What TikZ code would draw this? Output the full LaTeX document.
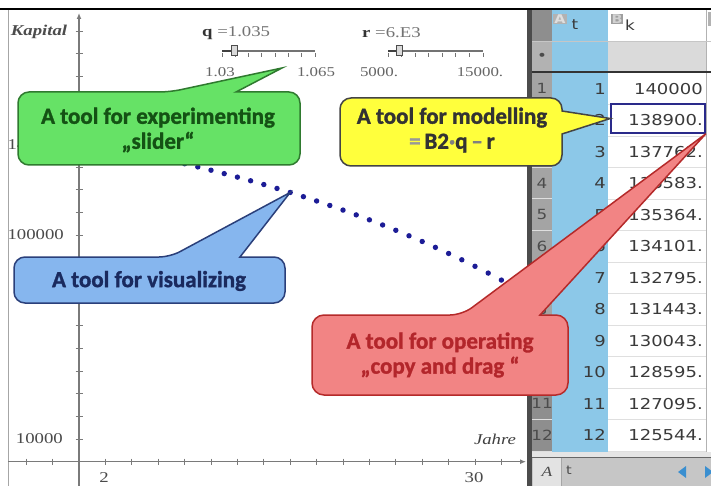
\documentclass[tikz,border=0pt]{standalone}
\usepackage{fontspec}
\setmainfont{Liberation Serif}
\newfontfamily\graphfont[FakeStretch=1.25]{Liberation Serif}
\newfontfamily\cellfont[FakeStretch=1.2]{DejaVu Sans}
\newfontfamily\calloutfont[BoldFeatures={FakeBold=1.3}]{Carlito}
\usetikzlibrary{arrows.meta}

\definecolor{axisgray}{HTML}{7A7A7A}
\definecolor{labgray}{HTML}{4A4A4A}
\definecolor{dotblue}{HTML}{1C1C96}
\definecolor{greenfill}{HTML}{66E266}
\definecolor{greenline}{HTML}{2F7A2F}
\definecolor{greentext}{HTML}{145214}
\definecolor{bluefill}{HTML}{86B6EE}
\definecolor{blueline}{HTML}{2A3F7A}
\definecolor{bluetext}{HTML}{1A2A5E}
\definecolor{yellowfill}{HTML}{FFFF3C}
\definecolor{yellowline}{HTML}{444444}
\definecolor{yellowtext}{HTML}{333333}
\definecolor{redfill}{HTML}{F28484}
\definecolor{redline}{HTML}{B52A2A}
\definecolor{redtext}{HTML}{B3262B}
\definecolor{colA}{HTML}{8CC8E8}
\definecolor{rowhead}{HTML}{A4A4A4}
\definecolor{rowheaddark}{HTML}{8E8E8E}
\definecolor{formrow}{HTML}{DADADA}
\definecolor{cellink}{HTML}{3A3A3A}
\definecolor{selblue}{HTML}{2A2A8A}
\definecolor{barblue}{HTML}{3A8FD0}

\begin{document}
\begin{tikzpicture}[x=1pt,y=-1pt,
  axis/.style={axisgray, line width=1.4pt},
  tick/.style={axisgray, line width=1pt},
  glab/.style={font=\graphfont\fontsize{15}{15}\selectfont, text=labgray, inner sep=0pt},
  slab/.style={font=\graphfont\fontsize{13.5}{14}\selectfont, text=black!60, inner sep=0pt},
  dotstyle/.style={circle, fill=dotblue, inner sep=0pt, minimum size=5.4pt},
  cellnum/.style={font=\cellfont\fontsize{15}{15}\selectfont, text=cellink, inner sep=0pt},
  rowlab/.style={font=\cellfont\fontsize{14}{14}\selectfont, text=black!70, inner sep=0pt},
  callout/.style={line width=1.5pt, rounded corners=11pt},
  callouttext/.style={font=\calloutfont\bfseries\fontsize{23}{25}\selectfont, align=center, inner sep=0pt},
  sliderline/.style={black!55, line width=1.8pt},
  sliderknob/.style={draw=black!70, fill=gray!30, line width=0.7pt}
]
\useasboundingbox (0,0) rectangle (711,486);
\fill[white] (0,0) rectangle (711,486);

% ---------- graph panel ----------
\draw[gray!70, line width=1.5pt] (8.5,10) -- (8.5,486);

% axes
\draw[axis, -{Latex[length=6pt,width=5pt]}] (79,486) -- (79,13);
\draw[axis, -{Latex[length=6pt,width=5pt]}] (8,461.7) -- (526,461.7);
\foreach \k in {1,...,19}
  \draw[tick] (75.5,{461.7-22.667*\k}) -- (82.5,{461.7-22.667*\k});
\foreach \k in {-2,-1,1,2,...,16}
  \draw[tick] ({79+26.4*\k},458.5) -- ({79+26.4*\k},465);

% axis labels
\node[glab, font=\graphfont\bfseries\itshape\fontsize{15}{15}\selectfont, text=black!70] (ylab) at (39,32) {Kapital};
\node[glab, font=\graphfont\itshape\fontsize{15}{15}\selectfont, text=black!75] (xlab) at (495,439) {Jahre};
\node[glab, anchor=east] (y10k) at (63,439) {10000};
\node[glab, anchor=east] (y100k) at (64,235) {100000};
\node[glab, anchor=east] (y140k) at (64,144.4) {140000};
\node[glab] (x2) at (104,478) {2};
\node[glab] (x30) at (474,478) {30};

% sliders
\node[glab, anchor=west, text=black!55] (qval) at (202,33) {\textbf{\color{black!80}q} =1.035};
\draw[sliderline] (222,51) -- (315,51);
\foreach \i in {0,...,7}
  \draw[black!55, line width=0.8pt] ({222+13.29*\i},53) -- ({222+13.29*\i},57.5);
\draw[black!75, line width=1.8pt] (222,51) -- (231,51);
\draw[sliderknob] (231,45.5) rectangle (237,55.5);
\node[slab] (qmin) at (220,72) {1.03};
\node[slab] (qmax) at (316,72) {1.065};

\node[glab, anchor=west, text=black!55] (rval) at (362,33) {\textbf{\color{black!80}r} =6.E3};
\draw[sliderline] (388,51) -- (483,51);
\foreach \i in {0,...,7}
  \draw[black!55, line width=0.8pt] ({388+13.57*\i},53) -- ({388+13.57*\i},57.5);
\draw[black!75, line width=1.8pt] (388,51) -- (396,51);
\draw[sliderknob] (396,45.5) rectangle (402,55.5);
\node[slab] (rmin) at (379,72) {5000.};
\node[slab] (rmax) at (480,72) {15000.};

% capital after t years: K(t) = 1.035 K(t-1) - 6000 (in thousands)
\foreach \t/\k in {1/140,2/138.9,3/137.7615,4/136.583,5/135.364,6/134.101,7/132.795,
  8/131.443,9/130.043,10/128.595,11/127.095,12/125.544,13/123.938,14/122.276,
  15/120.555,16/118.775,17/116.932,18/115.024,19/113.050,20/111.007,21/108.892,
  22/106.704,23/104.438,24/102.094,25/99.667,26/97.155,27/94.556,28/91.865,
  29/89.080,30/86.198,31/83.215,32/80.128,33/76.932}
  \node[dotstyle] (dot\t) at ({79+13.2*\t},{461.7-2.2667*\k}) {};

% ---------- spreadsheet ----------
\fill[black!70] (527,10) rectangle (532,486);
\fill[colA] (552,10) rectangle (608,452);
\fill[white] (608,10) rectangle (706,42);
\fill[formrow] (608,42) rectangle (706,71);
\fill[white] (608,73) rectangle (706,452);
\fill[white] (706,10) rectangle (711,452);
\draw[gray!60] (706.5,10) -- (706.5,452);
\fill[rowheaddark] (532,10) rectangle (552,42);
\fill[rowhead!85!white] (532,42) rectangle (552,71);
\fill[rowhead] (532,73) rectangle (552,388);
\fill[rowheaddark] (532,388) rectangle (552,452);
\draw[gray!45] (552,41.5) -- (711,41.5);
\draw[gray!45] (532,41.5) -- (552,41.5);

% column headers
\node[fill=gray!60, text=gray!25, font=\cellfont\bfseries\fontsize{12}{12}\selectfont, inner sep=1pt] (hA) at (560,19) {A};
\node[font=\cellfont\fontsize{14}{14}\selectfont, text=cellink, inner sep=0pt] (ht) at (575,25) {t};
\node[fill=gray!75, text=gray!35, font=\cellfont\bfseries\fontsize{12}{12}\selectfont, inner sep=1pt] (hB) at (617,19) {B};
\node[font=\cellfont\fontsize{14}{14}\selectfont, text=cellink, inner sep=0pt] (hk) at (630,25) {k};
\fill[gray!60] (708,12) rectangle (711,26);
\node[font=\cellfont\fontsize{14}{14}\selectfont, text=black!70, inner sep=0pt] (fdot) at (542,57) {•};

\fill[black!80] (532,71) rectangle (711,73.5);

% data rows
\foreach \i in {1,...,12} {
  \draw[gray!25] (608,{73+31.5*\i}) -- (706,{73+31.5*\i});
  \draw[white!75!gray, line width=1pt] (532,{73+31.5*\i}) -- (552,{73+31.5*\i});
}
\foreach \i/\b in {1/140000,2/138900.,3/137762.,4/136583.,5/135364.,6/134101.,
  7/132795.,8/131443.,9/130043.,10/128595.,11/127095.,12/125544.} {
  \node[rowlab] (r\i) at (542,{57.25+31.5*\i}) {\i};
  \node[cellnum, anchor=east] (a\i) at (606,{57.25+31.5*\i}) {\i};
  \node[cellnum, anchor=east] (b\i) at (703,{57.25+31.5*\i}) {\b};
}
\node[draw=selblue, line width=1.6pt, minimum width=94pt, minimum height=29pt, inner sep=0pt] (cellsel) at (658,118.5) {};

% bottom bar
\fill[gray!20] (532,452) rectangle (711,457);
\fill[gray!45] (532,457) rectangle (711,486);
\draw[black!60, line width=0.8pt] (532,457) -- (711,457);
\fill[gray!22] (533,458) rectangle (561,486);
\draw[gray!70] (561.5,458) -- (561.5,486);
\node[font=\graphfont\itshape\fontsize{14}{14}\selectfont, text=black!70, inner sep=0pt] (barA) at (547,472) {A};
\node[font=\cellfont\fontsize{12}{12}\selectfont, text=black!70, inner sep=0pt] (bart) at (569,470) {t};
\fill[barblue] (678,472) -- (686,466) -- (686,478) -- cycle;
\fill[barblue] (713,472) -- (705,466) -- (705,478) -- cycle;

% frame top
\draw[black, line width=2pt] (0,9.5) -- (711,9.5);

% ---------- callouts ----------
\draw[callout, fill=greenfill, draw=greenline]
  (18,128) -- (18,92) -- (170,92) [sharp corners] -- (282,68) -- (236,92)
  [rounded corners=11pt] -- (300,92) -- (300,165) -- (18,165) -- cycle;
\node[callouttext, text=greentext] (tgreen) at (158,130) {A tool for experimenting\\„slider“};

\draw[callout, fill=bluefill, draw=blueline]
  (14,280) -- (14,257) -- (170,257) [sharp corners] -- (dot16.center) -- (240,257)
  [rounded corners=11pt] -- (285,257) -- (285,303) -- (14,303) -- cycle;
\node[callouttext, text=bluetext] (tblue) at (149,281) {A tool for visualizing};

\draw[callout, fill=yellowfill, draw=yellowline]
  (340,130) -- (340,98) -- (562,98) [sharp corners] -- (562,111) -- (cellsel.west) -- (562,134)
  [rounded corners=11pt] -- (562,166) -- (340,166) -- cycle;
\node[callouttext, text=yellowtext] (tyellow) at (452,130)
  {A tool for modelling\\{\color{gray!80}=}\,B2{\color{gray}\textperiodcentered}q\,{\color{gray}–}\,r};

\draw[callout, fill=redfill, draw=redline, rounded corners=12pt]
  (312,360) -- (312,315) -- (462,315) [sharp corners] -- (cellsel.south east) -- (540,315)
  [rounded corners=12pt] -- (568,315) -- (568,395) -- (312,395) -- cycle;
\node[callouttext, text=redtext] (tred) at (440,355) {A tool for operating\\„copy and drag “};
\end{tikzpicture}
\end{document}
